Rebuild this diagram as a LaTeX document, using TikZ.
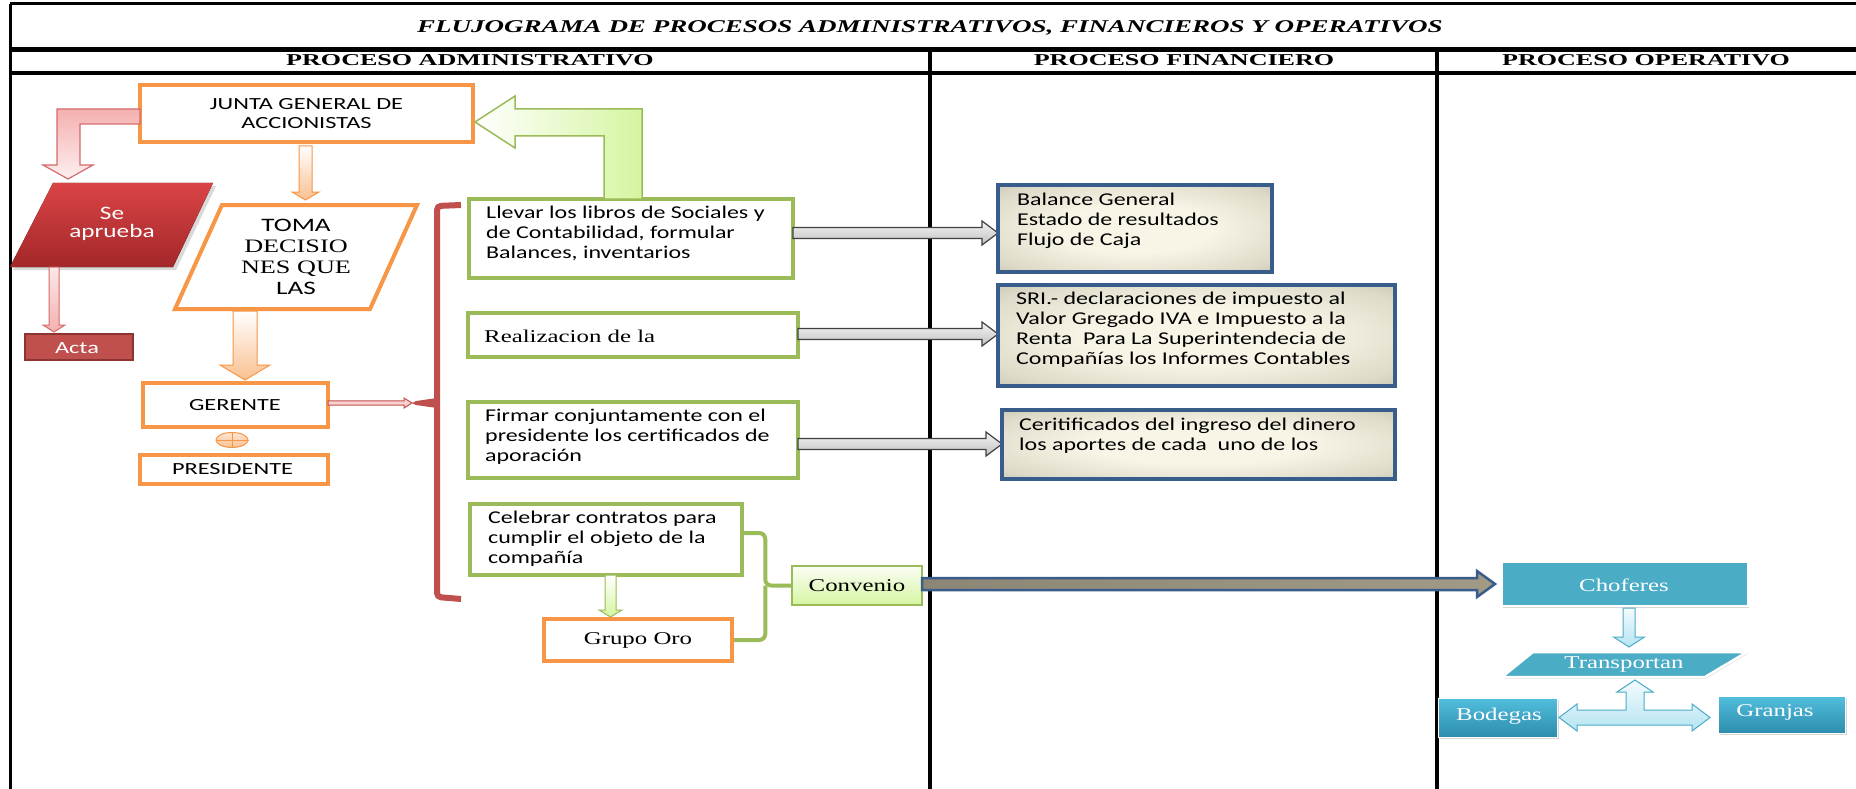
\documentclass[tikz,border=0pt]{standalone}
\usepackage{fontspec}
\setmainfont{Liberation Serif}
\newfontfamily\calbody[FakeStretch=1.33]{Carlito}
\newfontfamily\calcaps[FakeStretch=1.43]{Carlito}
\newfontfamily\tnr[FakeStretch=1.38]{Liberation Serif}
\newfontfamily\hdrfont[FakeStretch=1.57]{Liberation Serif}
\newfontfamily\ttlfont[FakeStretch=1.5]{Liberation Serif}
\usetikzlibrary{arrows.meta,calc,shapes.geometric,shadows}
\definecolor{orng}{HTML}{F79646}
\definecolor{orngl}{HTML}{FAC090}
\definecolor{grnb}{HTML}{9BBB59}
\definecolor{lime}{HTML}{D5F5A0}
\definecolor{rred}{HTML}{C0504D}
\definecolor{rdark}{HTML}{8C3432}
\definecolor{pinkc}{HTML}{F4B0B0}
\definecolor{pinkb}{HTML}{D46A6A}
\definecolor{blueb}{HTML}{385D8A}
\definecolor{creamc}{HTML}{F8F5E6}
\definecolor{greyb}{HTML}{A29E8A}
\definecolor{tealc}{HTML}{4BACC6}
\definecolor{tealt}{HTML}{52BEDD}
\definecolor{tealbt}{HTML}{2D8DAD}
\definecolor{cyanl}{HTML}{B5E4F2}
\definecolor{grbrown}{HTML}{8C8676}
\definecolor{cremid}{HTML}{FDF6DA}
\definecolor{grbrr}{HTML}{A09A86}
\definecolor{seatop}{HTML}{DA4446}
\definecolor{seabot}{HTML}{A32729}
\pgfdeclareradialshading{fshade}{\pgfpoint{0bp}{0bp}}{color(0bp)=(creamc); color(14bp)=(creamc); color(30bp)=(creamc!70!greyb); color(42bp)=(creamc!30!greyb); color(50bp)=(greyb)}
% shapes of block arrows
\newcommand{\rarrowshape}[6]{(#1,#3-#4) -- (#2-#6,#3-#4) -- (#2-#6,#3-#5) -- (#2,#3) -- (#2-#6,#3+#5) -- (#2-#6,#3+#4) -- (#1,#3+#4) -- cycle}
\newcommand{\darrowshape}[6]{(#1-#4,#2) -- (#1+#4,#2) -- (#1+#4,#3-#6) -- (#1+#5,#3-#6) -- (#1,#3) -- (#1-#5,#3-#6) -- (#1-#4,#3-#6) -- cycle}
\tikzset{
  obox/.style={draw=orng, line width=4pt, fill=white, inner sep=0pt},
  gbox/.style={draw=grnb, line width=4pt, fill=white, inner sep=0pt},
  fbox/.style={draw=blueb, line width=3.5pt, shading=fshade, inner sep=0pt},
  tbox/.style={draw=white, line width=2.5pt, fill=tealc, inner sep=0pt,
     drop shadow={opacity=0.3, shadow xshift=1pt, shadow yshift=-1.5pt}},
  bbox/.style={draw=white, line width=1pt, top color=tealt, bottom color=tealbt, inner sep=0pt,
     drop shadow={opacity=0.3, shadow xshift=1.5pt, shadow yshift=-1.5pt}},
  btxt/.style={font=\calbody\fontsize{18}{20}\selectfont, align=left, inner sep=0pt, anchor=west},
  ctxt/.style={font=\calcaps\fontsize{17}{19}\selectfont, align=center, inner sep=0pt},
  stxt/.style={font=\tnr\fontsize{18}{20}\selectfont, inner sep=0pt},
  htxt/.style={font=\hdrfont\bfseries\fontsize{16.6}{18}\selectfont, inner sep=0pt, anchor=base},
  frame/.style={line width=3pt, black},
  oarrow/.style={top color=white, bottom color=orngl, draw=orng, line width=1pt},
  garrow/.style={top color=white, bottom color=lime, draw=grnb, line width=1pt},
  greyarr/.style={top color=white!96!black, bottom color=black!25, draw=black!75, line width=1.2pt},
  carrow/.style={top color=white!85!cyanl, bottom color=cyanl, draw=tealc, line width=1pt},
}
\begin{document}
\begin{tikzpicture}[x=1pt,y=-1pt]
\useasboundingbox (0,0) rectangle (1856,789);
\fill[white] (0,0) rectangle (1856,789);
% ---------- frame ----------
\draw[frame] (10,4) -- (1856,4);
\draw[frame] (10,4) -- (10,789);
\draw[frame, line width=4.5pt] (10,49.5) -- (1856,49.5);
\draw[frame, line width=4.5pt] (10,73) -- (1856,73);
\draw[frame, line width=3.5pt] (930,49.5) -- (930,789);
\draw[frame, line width=3.5pt] (1437,49.5) -- (1437,789);
\node[font=\ttlfont\bfseries\itshape\fontsize{18}{20}\selectfont, inner sep=0pt, anchor=base] (title) at (930,33) {FLUJOGRAMA DE PROCESOS ADMINISTRATIVOS, FINANCIEROS Y OPERATIVOS};
\node[htxt] (h1) at (470,66) {PROCESO ADMINISTRATIVO};
\node[htxt] (h2) at (1184,66) {PROCESO FINANCIERO};
\node[htxt] (h3) at (1646,66) {PROCESO OPERATIVO};

% ---------- administrative column ----------
\node[obox, minimum width=333pt, minimum height=57pt] (junta) at (306.5,113.5) {};
\node[ctxt] (juntat) at (306.5,113.5) {JUNTA GENERAL DE\\ACCIONISTAS};

% red L arrow to Se aprueba
\draw[top color=pinkc, bottom color=white!80!pinkc, draw=pinkb, line width=1.2pt]
  (140,109) -- (57,109) -- (57,165) -- (43,165) -- (68,179) -- (93,165) -- (80,165) -- (80,124) -- (140,124) -- cycle;
% Se aprueba
\fill[black, opacity=0.15] (56,186) -- (216,186) -- (176,270) -- (13,270) -- cycle;
\fill[top color=seatop, bottom color=seabot] (53,183) -- (213,183) -- (173,267) -- (10,267) -- cycle;
\node[font=\calbody\fontsize{19}{18}\selectfont, text=white, align=center, inner sep=0pt] (seap) at (112,224) {Se\\aprueba};
% arrow to Acta
\draw[top color=white!70!pinkc, bottom color=pinkc, draw=pinkb, line width=1pt] \darrowshape{54}{267}{332}{5}{11}{7};
\node[fill=rred, draw=rdark, line width=2pt, minimum width=108pt, minimum height=26pt, inner sep=0pt] (acta) at (79,347) {};
\node[ctxt, text=white] (actat) at (77,348) {Acta};

% arrow junta -> toma
\draw[oarrow] \darrowshape{305.5}{146}{200}{6.5}{13.5}{8};
% TOMA parallelogram
\draw[draw=orng, line width=4pt, fill=white] (222,205) -- (417,205) -- (370,309) -- (175,309) -- cycle;
\node[align=center, inner sep=0pt, font=\fontsize{19}{21}\selectfont] (toma) at (296,257)
  {{\calcaps TOMA}\\{\tnr DECISIO}\\{\tnr NES QUE}\\{\calcaps LAS}};
% arrow toma -> gerente
\draw[oarrow] \darrowshape{245}{311}{380}{12}{25}{15};

\node[obox, minimum width=185pt, minimum height=44pt] (gerente) at (235.5,405) {};
\node[ctxt] (gerentet) at (235,405) {GERENTE};
\node[ellipse, draw=orng, line width=1pt, top color=orngl!40, bottom color=orngl, minimum width=32pt, minimum height=15pt, inner sep=0pt] (orsym) at (232,440) {};
\draw[orng, line width=1pt] (orsym.north) -- (orsym.south) (orsym.west) -- (orsym.east);
\node[obox, minimum width=188pt, minimum height=29pt] (presi) at (234,469.5) {};
\node[ctxt] (presit) at (232.5,469.5) {PRESIDENTE};

% gerente -> brace
\draw[fill=pinkc!60, draw=rred, line width=1pt] \rarrowshape{328}{412}{403}{2.2}{5}{8};
% red brace
\draw[rred, line width=6pt, rounded corners=4pt] (461,205) -- (437,206) -- (437,597) -- (461,599);
\fill[rred] (437,398) -- (416,401) -- (412,403) -- (416,405) -- (437,408) -- cycle;

% green activity boxes
\node[gbox, minimum width=324pt, minimum height=79pt] (b1) at (631,238.5) {};
\node[btxt] (b1t) at (486,233) {Llevar los libros de Sociales y\\de Contabilidad, formular\\Balances, inventarios};
\node[gbox, minimum width=330pt, minimum height=44pt] (b2) at (633,335) {};
\node[stxt, anchor=west] (b2t) at (484,336) {Realizacion de la};
\node[gbox, minimum width=330pt, minimum height=76pt] (b3) at (633,440) {};
\node[btxt] (b3t) at (485,437) {Firmar conjuntamente con el\\presidente los certificados de\\aporación};
\node[gbox, minimum width=272pt, minimum height=71pt] (b4) at (606,539.5) {};
\node[btxt] (b4t) at (488,539) {Celebrar contratos para\\cumplir el objeto de la\\compañía};

% green L arrow b1 -> junta
\draw[left color=white, right color=lime, draw=grnb, line width=1.5pt]
  (475,122) -- (515,96) -- (515,109) -- (642,109) -- (642,199) -- (604,199) -- (604,136) -- (515,136) -- (515,148) -- cycle;

% grupo oro and convenio
\draw[garrow] \darrowshape{610.5}{575}{617}{5.5}{11.5}{7};
\node[obox, minimum width=188pt, minimum height=42pt] (grupo) at (638,640) {};
\node[stxt] (grupot) at (638,640) {Grupo Oro};
\node[draw=grnb, line width=1.5pt, top color=white!90!lime, bottom color=lime, minimum width=130pt, minimum height=39pt, inner sep=0pt] (conv) at (857,585.5) {};
\node[stxt] (convt) at (857,586) {Convenio};
\coordinate (gbr) at ($(conv.west)+(-26,0)$);
\draw[grnb, line width=4pt, rounded corners=6pt] (b4.east |- 0,533) -| (gbr) -- (conv.west);
\draw[grnb, line width=4pt, rounded corners=6pt] (grupo.east) -| (gbr);

% ---------- financial column ----------
\draw[greyarr] \rarrowshape{793}{998}{233}{5.5}{12}{16};
\draw[greyarr] \rarrowshape{798}{998}{334}{5.5}{12}{16};
\draw[greyarr] \rarrowshape{798}{1002}{444}{5.5}{12}{16};
\node[fbox, minimum width=274pt, minimum height=87pt] (f1) at (1135,228.5) {};
\node[btxt] (f1t) at (1017,220.5) {Balance General\\Estado de resultados\\Flujo de Caja};
\node[fbox, minimum width=397pt, minimum height=101pt] (f2) at (1196.5,335.5) {};
\node[btxt] (f2t) at (1016,330) {SRI.- declaraciones de impuesto al\\Valor Gregado IVA e Impuesto a la\\Renta\ \ Para La Superintendecia de\\Compañías los Informes Contables};
\node[fbox, minimum width=393pt, minimum height=69pt] (f3) at (1198.5,444.5) {};
\node[btxt] (f3t) at (1019,436) {Ceritificados del ingreso del dinero\\los aportes de cada\ \ uno de los};

% convenio -> choferes
\draw[left color=grbrown, middle color=cremid, right color=grbrr, draw=blueb, line width=2.5pt] \rarrowshape{922}{1495}{584}{6}{13}{18};

% ---------- operative column ----------
\node[tbox, minimum width=246pt, minimum height=44pt] (chof) at (1625,584) {};
\node[stxt, text=white] (choft) at (1624,585) {Choferes};
\draw[carrow] \darrowshape{1629}{608}{647}{6}{15.5}{10};
\draw[draw=white, line width=2.5pt, fill=tealc, drop shadow={opacity=0.3, shadow xshift=1pt, shadow yshift=-1.5pt}] (1533,652) -- (1747,652) -- (1705,677) -- (1502,677) -- cycle;
\node[stxt, text=white] (transp) at (1624,665) {Transportan};
\draw[carrow]
  (1635,680) -- (1653,692) -- (1644,692) -- (1644,710) -- (1692,710) -- (1692,704) -- (1710,717.5) -- (1692,731) -- (1692,725)
  -- (1577,725) -- (1577,731) -- (1559,717.5) -- (1577,704) -- (1577,710) -- (1626,710) -- (1626,692) -- (1617,692) -- cycle;
\node[bbox, minimum width=119pt, minimum height=39pt] (bod) at (1497.5,717.5) {};
\node[stxt, text=white] (bodt) at (1499,716) {Bodegas};
\node[bbox, minimum width=127pt, minimum height=37pt] (gra) at (1781.5,714.5) {};
\node[stxt, text=white] (grat) at (1775,712) {Granjas};
\end{tikzpicture}
\end{document}
